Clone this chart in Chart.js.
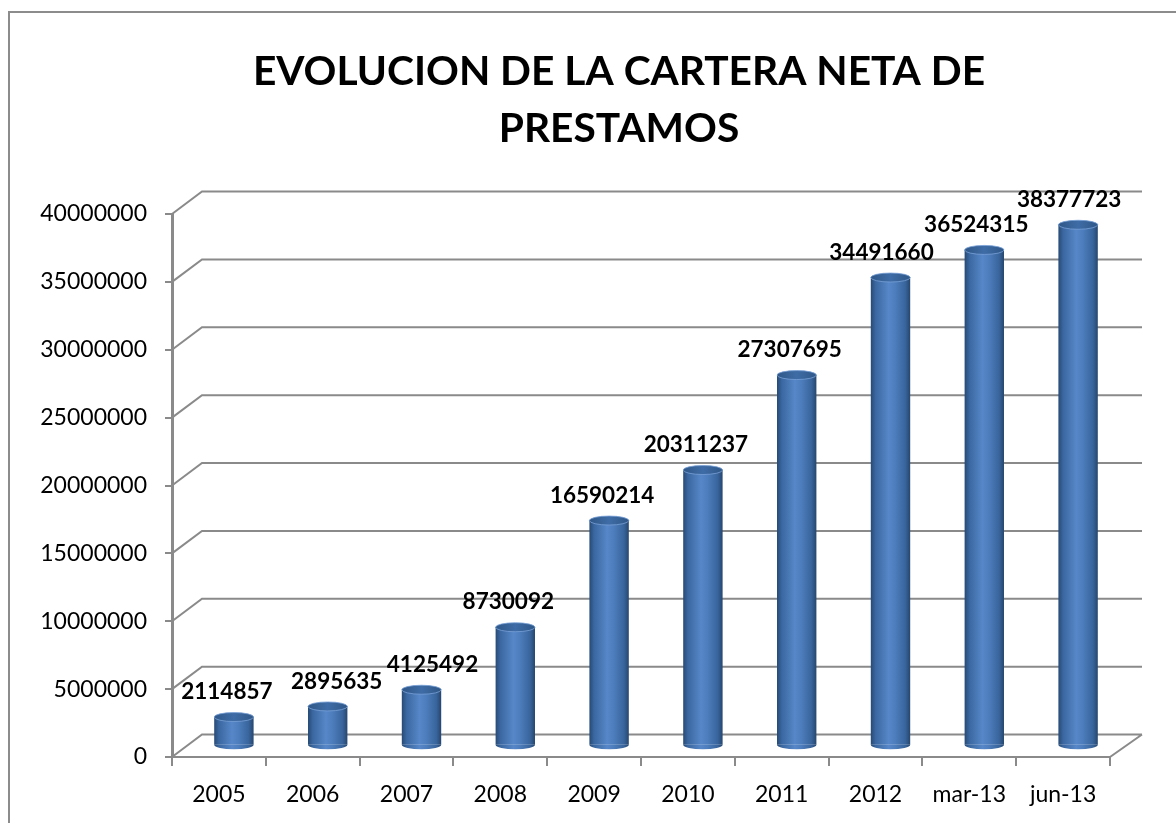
<!DOCTYPE html>
<html>
<head>
<meta charset="utf-8">
<script src="https://cdn.jsdelivr.net/npm/chart.js@4"></script>
<style>
  html, body { margin: 0; padding: 0; background: #fff; overflow: hidden; }
  #wrap { width: 1176px; height: 823px; position: relative; }
</style>
</head>
<body>
<div id="wrap"><canvas id="dataChart"></canvas></div>
<script>
const categories = ['2005', '2006', '2007', '2008', '2009', '2010', '2011', '2012', 'mar-13', 'jun-13'];
const carteraNeta = [2114857, 2895635, 4125492, 8730092, 16590214, 20311237, 27307695, 34491660, 36524315, 38377723];
const titleLines = ['EVOLUCION DE LA CARTERA NETA DE', 'PRESTAMOS'];
const yMin = 0;
const yMax = 40000000;
const yStep = 5000000;

// depth of the fake 3d box
const DEPTH_X = 30;
const DEPTH_Y = -22.5;
const BAR_PCT = 0.42;
const labelNudge = [-7, 9, 11, -7, -7, -7, -7, -9, -8, -9];
const gridColor = '#8a8a8a';

function bodyGradient(chart, index) {
    const xs = chart.scales.x;
    if (!xs || !xs.width) return '#4a7ab8';
    const w = (xs.width / categories.length) * BAR_PCT;
    const cx = xs.getPixelForValue(index);
    const g = chart.ctx.createLinearGradient(cx - w / 2, 0, cx + w / 2, 0);
    g.addColorStop(0, '#274a75');
    g.addColorStop(0.12, '#3a67a0');
    g.addColorStop(0.45, '#5787c8');
    g.addColorStop(0.62, '#4d7dbc');
    g.addColorStop(0.88, '#38649b');
    g.addColorStop(1, '#26466e');
    return g;
}

const frame3d = {
    id: 'frame3d',
    beforeDraw(chart) {
        const ctx = chart.ctx;
        ctx.save();
        ctx.fillStyle = '#fff';
        ctx.fillRect(0, 0, chart.width, chart.height);
        ctx.strokeStyle = '#8c8c8c';
        ctx.lineWidth = 2;
        ctx.beginPath();
        ctx.moveTo(9, chart.height + 2);
        ctx.lineTo(9, 12);
        ctx.lineTo(chart.width + 2, 12);
        ctx.stroke();
        // title, sized so the first line spans like the original
        let size = 44;
        ctx.font = 'bold ' + size + 'px Lato';
        size = size * 733 / ctx.measureText(titleLines[0]).width;
        ctx.font = 'bold ' + size.toFixed(1) + 'px Lato';
        ctx.fillStyle = '#000';
        ctx.textAlign = 'center';
        ctx.textBaseline = 'alphabetic';
        ctx.fillText(titleLines[0], 619, 85);
        ctx.fillText(titleLines[1], 619, 142);
        ctx.restore();
    },
    beforeDatasetsDraw(chart) {
        const ctx = chart.ctx;
        const ys = chart.scales.y;
        const area = chart.chartArea;
        ctx.save();
        ctx.strokeStyle = gridColor;
        ctx.lineWidth = 2;
        ctx.beginPath();
        for (let v = yMin; v <= yMax; v += yStep) {
            const y = ys.getPixelForValue(v);
            ctx.moveTo(area.left, y);
            ctx.lineTo(area.left + DEPTH_X, y + DEPTH_Y);
            ctx.lineTo(area.right + DEPTH_X + 2, y + DEPTH_Y);
        }
        ctx.moveTo(area.right, area.bottom);
        ctx.lineTo(area.right + DEPTH_X + 2, area.bottom + DEPTH_Y);
        ctx.stroke();
        ctx.restore();
        // bars sit in the middle of the depth
        ctx.save();
        ctx.translate(DEPTH_X / 2, DEPTH_Y / 2);
    },
    afterDatasetsDraw(chart) {
        const ctx = chart.ctx;
        const meta = chart.getDatasetMeta(0);
        meta.data.forEach((bar, i) => {
            const rx = bar.width / 2;
            const ry = 4.5;
            // rounded bottom
            ctx.beginPath();
            ctx.ellipse(bar.x, bar.base, rx, ry, 0, 0, Math.PI);
            ctx.fillStyle = bodyGradient(chart, i);
            ctx.fill();
            // top cap
            const cap = ctx.createLinearGradient(bar.x - rx, 0, bar.x + rx, 0);
            cap.addColorStop(0, '#2f5888');
            cap.addColorStop(0.5, '#3f6ca6');
            cap.addColorStop(1, '#2f5888');
            ctx.beginPath();
            ctx.ellipse(bar.x, bar.y, rx, ry, 0, 0, Math.PI * 2);
            ctx.fillStyle = cap;
            ctx.fill();
            ctx.strokeStyle = 'rgba(120,160,215,0.8)';
            ctx.lineWidth = 1;
            ctx.stroke();
        });
        ctx.fillStyle = '#000';
        ctx.font = 'bold 22.5px Lato';
        ctx.textAlign = 'center';
        ctx.textBaseline = 'middle';
        meta.data.forEach((bar, i) => {
            ctx.fillText(String(carteraNeta[i]), bar.x + labelNudge[i], bar.y - 25);
        });
        ctx.restore();
    }
};

const chartCanvas = document.getElementById('dataChart');
const dataChart = new Chart(chartCanvas, {
    type: 'bar',
    data: {
        labels: categories,
        datasets: [{
            label: 'Cartera neta',
            data: carteraNeta,
            backgroundColor: (c) => bodyGradient(c.chart, c.dataIndex),
            borderWidth: 0,
            barPercentage: 1,
            categoryPercentage: BAR_PCT
        }]
    },
    options: {
        responsive: true,
        maintainAspectRatio: false,
        animation: false,
        layout: { padding: { left: 0, right: 66, top: 214, bottom: 0 } },
        plugins: {
            legend: { display: false },
            tooltip: { enabled: false },
            title: { display: false }
        },
        scales: {
            x: {
                grid: { drawOnChartArea: false, drawTicks: true, tickLength: 9, color: gridColor, lineWidth: 2 },
                border: { display: true, color: gridColor, width: 2 },
                ticks: { color: '#000', font: { family: 'Lato', size: 23 }, padding: 15, maxRotation: 0 },
                afterFit: (s) => { s.height = 66; }
            },
            y: {
                min: yMin,
                max: yMax,
                grid: { drawOnChartArea: false, drawTicks: true, tickLength: 7, color: gridColor, lineWidth: 2 },
                border: { display: true, color: gridColor, width: 3 },
                ticks: {
                    stepSize: yStep,
                    color: '#000',
                    font: { family: 'Lato', size: 23 },
                    padding: 18,
                    callback: (v) => String(v)
                },
                afterFit: (s) => { s.width = 172; }
            }
        }
    },
    plugins: [frame3d]
});
</script>
</body>
</html>
